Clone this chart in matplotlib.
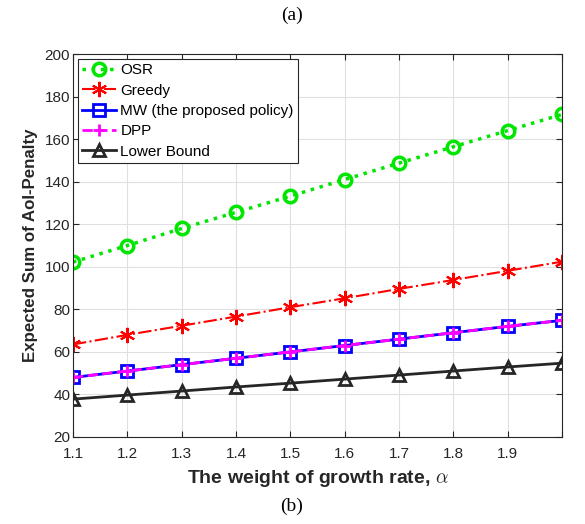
import numpy as np
import matplotlib
matplotlib.use('Agg')
import matplotlib.pyplot as plt

# Data
alpha = [1.1, 1.2, 1.3, 1.4, 1.5, 1.6, 1.7, 1.8, 1.9, 2.0]
osr = [102.2, 110.0, 118.0, 125.6, 133.2, 141.0, 148.7, 156.4, 164.0, 171.6]
greedy = [63.5, 68.0, 72.3, 76.6, 81.0, 85.2, 89.6, 93.8, 98.1, 102.4]
mw = [48.0, 51.0, 54.0, 57.0, 60.0, 63.0, 66.0, 69.0, 72.0, 74.8]
dpp = [48.0, 51.0, 54.0, 57.0, 60.0, 63.0, 66.0, 69.0, 72.0, 74.8]
lower = [37.8, 39.7, 41.6, 43.5, 45.3, 47.2, 49.1, 51.0, 52.9, 54.7]

xticks = [1.1, 1.2, 1.3, 1.4, 1.5, 1.6, 1.7, 1.8, 1.9, 2.0]
xticklabels = ['1.1', '1.2', '1.3', '1.4', '1.5', '1.6', '1.7', '1.8', '1.9', '']
yticks = [20, 40, 60, 80, 100, 120, 140, 160, 180, 200]

plt.rcParams['font.family'] = ['Liberation Sans', 'DejaVu Sans']
plt.rcParams['mathtext.fontset'] = 'cm'

fig = plt.figure(figsize=(5.85, 5.24), dpi=100)
ax = fig.add_axes([73/585, 87/524, 489/585, 383/524])

ax.plot(alpha, osr, ':', color='#00e600', lw=2.5, marker='o', ms=9,
        mfc='none', mew=2.5, label='OSR')
ax.plot(alpha, greedy, '-.', color='#ff0000', lw=1.5, marker=(6, 2, 0), ms=11,
        mew=1.5, label='Greedy')
ax.plot(alpha, mw, '-', color='#0000ff', lw=2, marker='s', ms=9,
        mfc='none', mew=2, label='MW (the proposed policy)')
ax.plot(alpha, dpp, '--', color='#ff00ff', lw=2, marker='+', ms=9,
        mew=2, label='DPP')
ax.plot(alpha, lower, '-', color='#262626', lw=2, marker='^', ms=9,
        mfc='none', mew=2, label='Lower Bound')

ax.set_xlim(1.1, 2.0)
ax.set_ylim(20, 200)
ax.set_xticks(xticks)
ax.set_xticklabels(xticklabels)
ax.set_yticks(yticks)
ax.tick_params(direction='in', labelsize=11, color='#262626', length=4,
               top=True, right=True, labelcolor='#262626')
ax.tick_params(axis='x', pad=7)
ax.tick_params(axis='y', pad=2)
ax.grid(True, color='#e0e0e0', lw=0.8)
for s in ax.spines.values():
    s.set_color('#262626')
    s.set_linewidth(0.8)

ax.set_xlabel(r'The weight of growth rate, $\alpha$', fontsize=14,
              fontweight='bold', labelpad=5, color='#262626')
ax.set_ylabel('Expected Sum of AoI-Penalty', fontsize=12.2,
              fontweight='bold', labelpad=5, color='#262626')

leg = ax.legend(loc='upper left', fontsize=11, handlelength=2.2,
                borderaxespad=0.35, labelspacing=0.42, handletextpad=0.3,
                fancybox=False, edgecolor='#262626', framealpha=1,
                borderpad=0.25)
leg.get_frame().set_linewidth(0.8)

fig.text(0.5, 1 - 15/524, '(a)', ha='center', va='center', fontsize=14,
         family='Liberation Serif')
fig.text(292/585, 1 - 506/524, '(b)', ha='center', va='center', fontsize=14,
         family='Liberation Serif')

fig.savefig('out.png', dpi=100)
